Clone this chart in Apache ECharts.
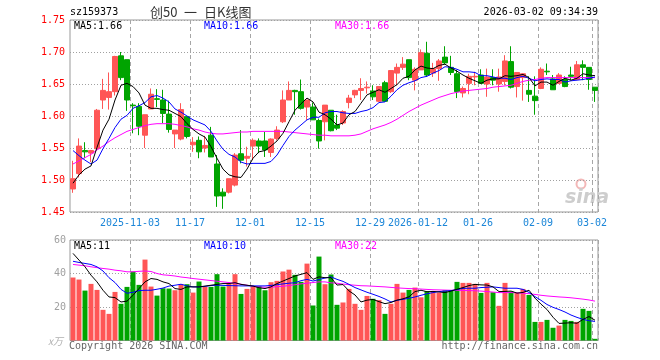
<!DOCTYPE html>
<html><head><meta charset="utf-8">
<script src="https://cdn.jsdelivr.net/npm/echarts@6/dist/echarts.min.js"></script>
<style>html,body{margin:0;padding:0;background:#fff}#c{width:660px;height:360px}</style>
</head><body><div id="c"></div>
<script>
const dates = [
'2025-10-20','2025-10-21','2025-10-22','2025-10-23','2025-10-24','2025-10-27','2025-10-28','2025-10-29','2025-10-30','2025-10-31',
'2025-11-03','2025-11-04','2025-11-05','2025-11-06','2025-11-07','2025-11-10','2025-11-11','2025-11-12','2025-11-13','2025-11-14',
'2025-11-17','2025-11-18','2025-11-19','2025-11-20','2025-11-21','2025-11-24','2025-11-25','2025-11-26','2025-11-27','2025-11-28',
'2025-12-01','2025-12-02','2025-12-03','2025-12-04','2025-12-05','2025-12-08','2025-12-09','2025-12-10','2025-12-11','2025-12-12',
'2025-12-15','2025-12-16','2025-12-17','2025-12-18','2025-12-19','2025-12-22','2025-12-23','2025-12-24','2025-12-25','2025-12-26',
'2025-12-29','2025-12-30','2025-12-31','2026-01-05','2026-01-06','2026-01-07','2026-01-08','2026-01-09','2026-01-12','2026-01-13',
'2026-01-14','2026-01-15','2026-01-16','2026-01-19','2026-01-20','2026-01-21','2026-01-22','2026-01-23','2026-01-26','2026-01-27',
'2026-01-28','2026-01-29','2026-01-30','2026-02-02','2026-02-03','2026-02-04','2026-02-05','2026-02-06','2026-02-09','2026-02-10',
'2026-02-11','2026-02-12','2026-02-13','2026-02-24','2026-02-25','2026-02-26','2026-02-27','2026-03-02'];
const opens = [
1.486,1.510,1.546,1.542,1.549,1.625,1.629,1.638,1.694,1.688,
1.617,1.615,1.570,1.611,1.627,1.625,1.603,1.572,1.564,1.599,
1.555,1.562,1.550,1.570,1.525,1.481,1.481,1.492,1.541,1.534,
1.553,1.561,1.561,1.543,1.565,1.591,1.625,1.640,1.638,1.614,
1.614,1.593,1.591,1.609,1.586,1.589,1.621,1.633,1.640,1.644,
1.639,1.623,1.652,1.638,1.667,1.676,1.688,1.656,1.672,1.698,
1.667,1.674,1.692,1.676,1.666,1.636,1.651,1.661,1.664,1.650,
1.660,1.650,1.654,1.685,1.646,1.660,1.640,1.631,1.643,1.670,
1.658,1.651,1.657,1.664,1.657,1.680,1.676,1.645];
const closes = [
1.502,1.553,1.544,1.546,1.609,1.640,1.638,1.693,1.660,1.625,
1.616,1.584,1.602,1.634,1.626,1.604,1.579,1.578,1.610,1.568,
1.559,1.544,1.554,1.536,1.475,1.475,1.502,1.539,1.531,1.537,
1.562,1.553,1.547,1.564,1.578,1.625,1.640,1.638,1.612,1.625,
1.594,1.561,1.617,1.577,1.581,1.607,1.628,1.640,1.643,1.645,
1.630,1.646,1.623,1.671,1.676,1.681,1.660,1.673,1.699,1.664,
1.674,1.686,1.683,1.668,1.638,1.643,1.662,1.662,1.651,1.661,
1.656,1.661,1.686,1.645,1.668,1.666,1.634,1.624,1.673,1.669,
1.641,1.664,1.646,1.662,1.680,1.676,1.657,1.640];
const lows = [
1.480,1.504,1.534,1.528,1.547,1.611,1.610,1.632,1.656,1.608,
1.573,1.570,1.550,1.611,1.614,1.589,1.574,1.550,1.562,1.565,
1.544,1.534,1.543,1.536,1.458,1.455,1.479,1.490,1.526,1.521,
1.531,1.542,1.536,1.536,1.562,1.589,1.625,1.602,1.610,1.594,
1.594,1.549,1.562,1.576,1.578,1.586,1.612,1.628,1.625,1.635,
1.625,1.622,1.622,1.636,1.648,1.672,1.656,1.640,1.672,1.661,
1.661,1.655,1.681,1.664,1.628,1.629,1.634,1.648,1.650,1.630,
1.648,1.638,1.648,1.643,1.629,1.624,1.622,1.602,1.642,1.664,
1.641,1.650,1.645,1.656,1.656,1.656,1.641,1.622];
const highs = [
1.530,1.565,1.559,1.547,1.611,1.658,1.668,1.694,1.700,1.688,
1.620,1.620,1.602,1.643,1.642,1.641,1.624,1.578,1.620,1.599,
1.567,1.568,1.569,1.583,1.539,1.487,1.502,1.542,1.578,1.552,
1.565,1.565,1.575,1.565,1.584,1.640,1.654,1.641,1.657,1.625,
1.621,1.596,1.617,1.609,1.602,1.609,1.633,1.641,1.659,1.654,
1.648,1.646,1.655,1.671,1.682,1.692,1.688,1.676,1.704,1.716,
1.683,1.689,1.709,1.694,1.672,1.646,1.666,1.669,1.673,1.674,
1.673,1.674,1.695,1.709,1.668,1.667,1.662,1.662,1.676,1.682,
1.664,1.667,1.662,1.677,1.686,1.687,1.676,1.645];
const ma5 = [
1.495,1.508,1.517,1.522,1.551,1.578,1.595,1.625,1.648,1.651,
1.646,1.636,1.617,1.612,1.612,1.610,1.609,1.604,1.599,1.588,
1.579,1.572,1.567,1.552,1.534,1.517,1.508,1.505,1.504,1.517,
1.534,1.544,1.546,1.553,1.561,1.573,1.591,1.609,1.619,1.628,
1.622,1.606,1.602,1.595,1.586,1.589,1.602,1.607,1.620,1.633,
1.637,1.641,1.637,1.643,1.649,1.659,1.662,1.672,1.678,1.675,
1.674,1.679,1.681,1.675,1.670,1.664,1.659,1.655,1.651,1.656,
1.658,1.658,1.663,1.662,1.663,1.665,1.660,1.647,1.653,1.653,
1.648,1.654,1.659,1.656,1.659,1.666,1.664,1.663];
const ma10 = [
1.546,1.538,1.531,1.525,1.531,1.549,1.565,1.582,1.595,1.601,
1.612,1.616,1.621,1.630,1.632,1.628,1.622,1.611,1.606,1.600,
1.594,1.590,1.586,1.576,1.561,1.548,1.540,1.536,1.528,1.525,
1.526,1.526,1.526,1.529,1.539,1.554,1.568,1.578,1.586,1.594,
1.598,1.598,1.605,1.607,1.607,1.605,1.604,1.604,1.607,1.609,
1.613,1.621,1.622,1.631,1.641,1.648,1.652,1.655,1.660,1.662,
1.667,1.671,1.677,1.676,1.673,1.669,1.669,1.668,1.663,1.663,
1.661,1.659,1.659,1.657,1.660,1.662,1.659,1.655,1.657,1.658,
1.657,1.657,1.653,1.655,1.656,1.657,1.659,1.661];
const ma30 = [
1.525,1.530,1.535,1.540,1.547,1.553,1.560,1.566,1.571,1.576,
1.579,1.582,1.585,1.587,1.588,1.588,1.588,1.587,1.585,1.583,
1.580,1.578,1.575,1.573,1.572,1.572,1.573,1.574,1.575,1.575,
1.576,1.576,1.576,1.576,1.576,1.576,1.575,1.574,1.573,1.572,
1.571,1.570,1.570,1.569,1.569,1.569,1.569,1.570,1.572,1.576,
1.580,1.583,1.586,1.590,1.595,1.601,1.607,1.612,1.617,1.621,
1.625,1.629,1.632,1.635,1.637,1.639,1.640,1.641,1.642,1.643,
1.645,1.646,1.647,1.648,1.651,1.654,1.656,1.657,1.659,1.660,
1.660,1.660,1.660,1.660,1.660,1.660,1.660,1.660];
const volumes = [
37.6,36.4,29.8,33.8,30.2,18.3,15.9,29.0,21.9,32.0,
41.2,33.2,48.3,32.2,26.8,31.2,31.0,30.0,33.6,33.6,
28.6,35.2,32.0,32.0,39.6,32.2,33.8,39.6,27.8,30.8,
32.4,32.4,30.0,34.8,35.6,41.2,42.3,39.2,35.0,45.9,
20.9,50.1,33.6,39.4,21.3,22.7,30.8,21.9,18.3,26.6,
24.9,24.1,15.9,21.9,33.8,28.6,30.2,31.6,25.8,29.4,
29.4,28.6,30.0,30.0,35.0,34.4,34.4,33.8,28.4,34.4,
28.8,20.7,34.4,29.2,28.4,30.8,27.2,11.1,11.1,12.3,
7.6,8.9,12.3,11.7,11.1,18.9,17.7,1.0];
const vma5 = [
52,48,44,39,35,30,26,25.6,23,23.5,
27,31,35,37,36.5,35,34,31,30.5,32,
32,32,32.5,33,33.5,34,34,34.5,33.5,33,
32.5,31.5,31,32,34,35.5,37,38.5,39.5,40.5,
36.5,38,37.5,37.5,33.1,33.4,29.6,27.2,23.0,24.1,
24.5,23.2,22.0,22.7,24.1,24.9,26.1,29.2,30.0,29.1,
29.3,29.0,28.6,29.5,30.6,31.6,32.8,33.5,33.2,33.1,
32.0,29.2,29.3,29.5,28.3,28.7,30.0,25.3,21.7,18.5,
13.9,10.2,10.4,10.6,10.3,12.6,14.3,12.1];
const vma10 = [
47.3,46.6,46.0,45.4,44.0,41.5,37.5,34.6,30.5,28.2,
28.8,29.8,30.0,30.0,30.6,31.3,32.5,33.0,33.6,32.6,
32.0,32.0,32.3,32.8,33.0,32.9,32.8,32.7,32.6,32.6,
32.6,32.6,32.6,32.9,33.3,33.8,34.2,34.5,35.7,36.5,
35.5,36.4,37.3,38.0,36.5,35.3,33.5,31.6,30.2,28.8,
27.6,26.3,24.8,23.0,24.0,24.6,25.2,26.0,27.0,27.9,
28.6,29.2,29.5,29.8,30.4,31.1,31.2,31.2,31.6,31.8,
32.0,31.6,31.2,31.2,31.2,30.5,28.7,26.2,24.0,21.5,
19.8,18.5,17.0,15.2,13.8,12.6,11.8,11.4];
const vma30 = [
45.4,45.0,44.6,44.0,43.5,43.0,42.6,42.0,41.6,41.0,
41.0,41.3,41.5,41.2,40.0,39.2,38.9,38.5,37.9,37.5,
37.0,36.6,36.2,35.8,35.4,35.0,34.6,34.1,33.6,33.0,
32.4,32.0,31.8,31.9,32.1,32.4,32.8,33.3,33.8,34.2,
34.6,35.0,35.0,34.4,34.2,33.7,33.3,33.0,32.7,32.6,
32.4,32.2,32.0,31.7,31.4,31.2,31.0,30.9,30.7,30.5,
30.3,30.2,30.1,30.0,30.0,29.9,29.8,29.7,29.5,29.2,
28.9,28.6,28.6,28.6,28.5,28.2,28.0,27.5,27.0,26.6,
26.3,26.0,25.8,25.5,25.1,24.7,24.2,23.5];
const tickDates = ['2025-11-03','2025-11-17','2025-12-01','2025-12-15','2025-12-29','2026-01-12','2026-01-26','2026-02-09','2026-03-02'];
const tickLabels = ['2025-11-03','11-17','12-01','12-15','12-29','2026-01-12','01-26','02-09','03-02'];
const priceTicks = [1.45, 1.75, 0.05];
const volTicks = [0, 60, 20];
const titleParts = ['创50', '一', '日K线图'];
const codeText = 'sz159373';
const timeText = '2026-03-02 09:34:39';
const priceLegend = ['MA5:1.66', 'MA10:1.66', 'MA30:1.66'];
const volLegend = ['MA5:11', 'MA10:10', 'MA30:22'];

const RED = '#ff5656', GREEN = '#00a400';
const F = 'DejaVu Sans Mono';
const CJK = '"Noto Sans CJK SC"';
const tickIdx = tickDates.map(d => dates.indexOf(d));
const isTick = (i) => tickIdx.indexOf(i) >= 0;

function xAx(gi, showLabel) {
  return {
    type: 'category', gridIndex: gi, data: dates, boundaryGap: true,
    axisLine: {show: false}, axisTick: {show: false},
    axisLabel: showLabel ? {
      interval: (i) => isTick(i),
      formatter: (v) => tickLabels[tickDates.indexOf(v)],
      color: '#1c86d8', fontFamily: F, fontSize: 10, margin: 6, padding: [0, 6, 0, 0]
    } : {show: false},
    splitLine: {show: true, interval: (i) => isTick(i), lineStyle: {color: '#a6a6a6', type: [4, 3], width: 1}}
  };
}
const chart = echarts.init(document.getElementById('c'));
const txt = (text, x, y, color, align, font) => ({
  type: 'text', x: x, y: y, silent: true,
  style: {text: text, fill: color, textAlign: align || 'left', textVerticalAlign: 'middle', font: font || ('10px ' + F)}
});
chart.setOption({
  animation: false,
  grid: [
    {left: 70, top: 20, width: 528, height: 192, show: true, borderColor: '#999', borderWidth: 1},
    {left: 70, top: 240, width: 528, height: 100.5, show: true, borderColor: '#999', borderWidth: 1}
  ],
  xAxis: [xAx(0, true), xAx(1, false)],
  yAxis: [
    {type: 'value', gridIndex: 0, min: priceTicks[0], max: priceTicks[1], interval: priceTicks[2],
     axisLine: {show: false}, axisTick: {show: false},
     axisLabel: {color: '#ff0000', fontFamily: F, fontSize: 10, margin: 5, formatter: (v) => v.toFixed(2)},
     splitLine: {show: true, lineStyle: {color: '#a0a0a0', type: [1, 2], width: 1}}},
    {type: 'value', gridIndex: 1, min: volTicks[0], max: volTicks[1], interval: volTicks[2],
     axisLine: {show: false}, axisTick: {show: false},
     axisLabel: {color: '#a0a0a0', fontFamily: F, fontSize: 10, margin: 4, formatter: (v) => v === 0 ? '' : String(v)},
     splitLine: {show: true, lineStyle: {color: '#a0a0a0', type: [1, 2], width: 1}}}
  ],
  series: [
    {type: 'candlestick', xAxisIndex: 0, yAxisIndex: 0, barWidth: 5,
     data: opens.map((o, i) => [o, closes[i], lows[i], highs[i]]),
     itemStyle: {color: RED, color0: GREEN, borderColor: RED, borderColor0: GREEN, borderWidth: 1}},
    {type: 'line', xAxisIndex: 0, yAxisIndex: 0, data: ma30, symbol: 'none', lineStyle: {color: '#ff00ff', width: 1}},
    {type: 'line', xAxisIndex: 0, yAxisIndex: 0, data: ma10, symbol: 'none', lineStyle: {color: '#0000ff', width: 1}},
    {type: 'line', xAxisIndex: 0, yAxisIndex: 0, data: ma5, symbol: 'none', lineStyle: {color: '#000000', width: 1}},
    {type: 'bar', xAxisIndex: 1, yAxisIndex: 1, barWidth: 5,
     data: volumes.map((v, i) => ({value: v, itemStyle: {color: closes[i] >= opens[i] ? RED : GREEN}}))},
    {type: 'line', xAxisIndex: 1, yAxisIndex: 1, data: vma30, symbol: 'none', lineStyle: {color: '#ff00ff', width: 1}},
    {type: 'line', xAxisIndex: 1, yAxisIndex: 1, data: vma10, symbol: 'none', lineStyle: {color: '#0000ff', width: 1}},
    {type: 'line', xAxisIndex: 1, yAxisIndex: 1, data: vma5, symbol: 'none', lineStyle: {color: '#000000', width: 1}}
  ],
  graphic: [
    txt(codeText, 70, 12.5, '#000'),
    txt(titleParts[0], 150, 12, '#333', 'left', '13px ' + CJK),
    txt(titleParts[1], 184, 12, '#333', 'left', '13px ' + CJK),
    txt(titleParts[2], 204, 12, '#333', 'left', '13px ' + CJK),
    txt(timeText, 598, 12.5, '#000', 'right'),
    txt(priceLegend[0], 74, 26, '#000'),
    txt(priceLegend[1], 204, 26, '#0000ff'),
    txt(priceLegend[2], 335, 26, '#ff00ff'),
    txt(volLegend[0], 74, 246.5, '#000'),
    txt(volLegend[1], 204, 246.5, '#0000ff'),
    txt(volLegend[2], 335, 246.5, '#ff00ff'),
    txt('x万', 63, 341, '#b0b0b0', 'right', 'italic 10px ' + CJK),
    txt('Copyright 2026 SINA.COM', 69, 346, '#666'),
    txt('http://finance.sina.com.cn', 598, 346, '#666', 'right'),
    {type: 'circle', shape: {cx: 581, cy: 184, r: 4.5}, silent: true, style: {fill: 'none', stroke: '#f3b8b8', lineWidth: 2}},
    txt('sina', 565, 198, '#cdcdcd', 'left', 'italic bold 19px "DejaVu Sans"')
  ]
});
</script></body></html>
